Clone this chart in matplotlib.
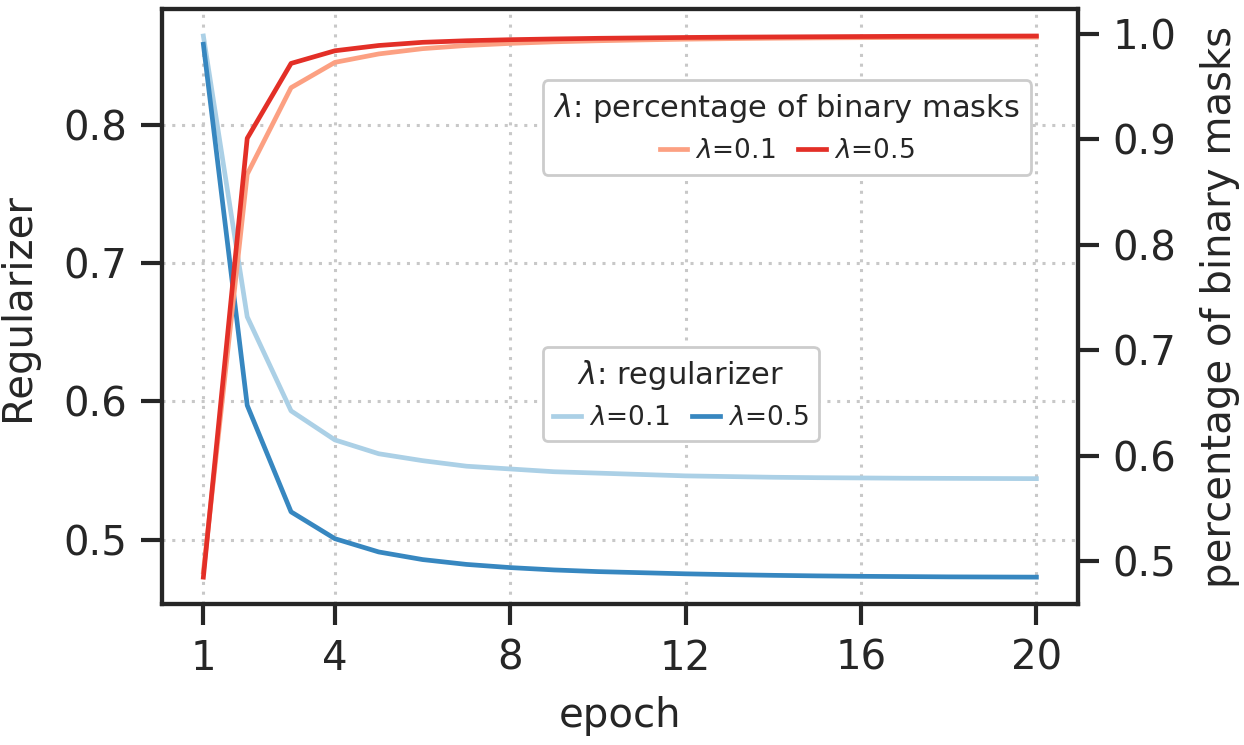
import numpy as np
import matplotlib
matplotlib.use("Agg")
import matplotlib.pyplot as plt
import seaborn as sns

# ===============================
# Data
# ===============================

epochs = list(range(1, 21))

reg_l01 = [0.864, 0.661, 0.593, 0.572, 0.562, 0.557, 0.553, 0.551, 0.549, 0.548,
           0.547, 0.546, 0.5455, 0.545, 0.5447, 0.5445, 0.5443, 0.5442, 0.5441, 0.544]
reg_l05 = [0.858, 0.597, 0.520, 0.5006, 0.491, 0.4855, 0.482, 0.4797, 0.478, 0.4768,
           0.476, 0.4752, 0.4746, 0.4741, 0.4737, 0.4734, 0.4732, 0.4730, 0.4729, 0.4728]

bin_l01 = [0.490, 0.867, 0.949, 0.973, 0.981, 0.986, 0.989, 0.991, 0.9925, 0.9935,
           0.9943, 0.9950, 0.9955, 0.9959, 0.9962, 0.9964, 0.9966, 0.9967, 0.9968, 0.9969]
bin_l05 = [0.485, 0.901, 0.972, 0.984, 0.989, 0.992, 0.9935, 0.9945, 0.9952, 0.9958,
           0.9962, 0.9966, 0.9969, 0.9971, 0.9973, 0.9975, 0.9977, 0.9978, 0.9979, 0.998]

xticks = [1, 4, 8, 12, 16, 20]

blues = sns.color_palette("Blues", 2)
reds = sns.color_palette("Reds", 2)

# ===============================
# Style
# ===============================

dark = "#262626"
plt.rcParams["font.family"] = ["DejaVu Sans"]
plt.rcParams["text.color"] = dark
plt.rcParams["axes.labelcolor"] = dark
plt.rcParams["xtick.color"] = dark
plt.rcParams["ytick.color"] = dark
plt.rcParams["axes.edgecolor"] = dark
plt.rcParams["axes.linewidth"] = 3
plt.rcParams["mathtext.fontset"] = "dejavusans"

fig = plt.figure(figsize=(12.44, 7.45), dpi=100)
ax1 = fig.add_subplot(111)
fig.subplots_adjust(left=0.130, right=0.8666, top=0.988, bottom=0.189)
ax2 = ax1.twinx()

# ===============================
# Plot
# ===============================

lw = 3.4
l1, = ax1.plot(epochs, reg_l01, color=blues[0], lw=lw, label=r"$\lambda$=0.1")
l2, = ax1.plot(epochs, reg_l05, color=blues[1], lw=lw, label=r"$\lambda$=0.5")

r1, = ax2.plot(epochs, bin_l01, color=reds[0], lw=lw, label=r"$\lambda$=0.1")
r2, = ax2.plot(epochs, bin_l05, color=reds[1], lw=lw, label=r"$\lambda$=0.5")

ax1.grid(True, linestyle=(0, (1, 2.2)), color="#c8c8c8", lw=2.2)
ax1.set_xticks(xticks)
ax1.set_xlabel("epoch", fontsize=29, labelpad=12)
ax1.set_ylabel("Regularizer", fontsize=29, labelpad=18)
ax2.set_ylabel("percentage of binary masks", fontsize=29, labelpad=17)

for ax in (ax1, ax2):
    ax.tick_params(labelsize=29, length=15, width=3, pad=10)
    for s in ax.spines.values():
        s.set_linewidth(3)
        s.set_color(dark)

leg_kw = dict(ncol=2, loc="upper left", borderaxespad=0, fontsize=19,
              title_fontsize=22, handlelength=1.05, columnspacing=0.85,
              handletextpad=0.3, framealpha=1, edgecolor="#cccccc")

leg_b = ax1.legend(handles=[l1, l2], title=r"$\lambda$: regularizer",
                   bbox_to_anchor=(0.416, 0.432), **leg_kw)
leg_b.get_frame().set_linewidth(2)

leg_r = ax2.legend(handles=[r1, r2], title=r"$\lambda$: percentage of binary masks",
                   bbox_to_anchor=(0.416, 0.880), **leg_kw)
leg_r.get_frame().set_linewidth(2)

plt.savefig("out.png", dpi=100)
